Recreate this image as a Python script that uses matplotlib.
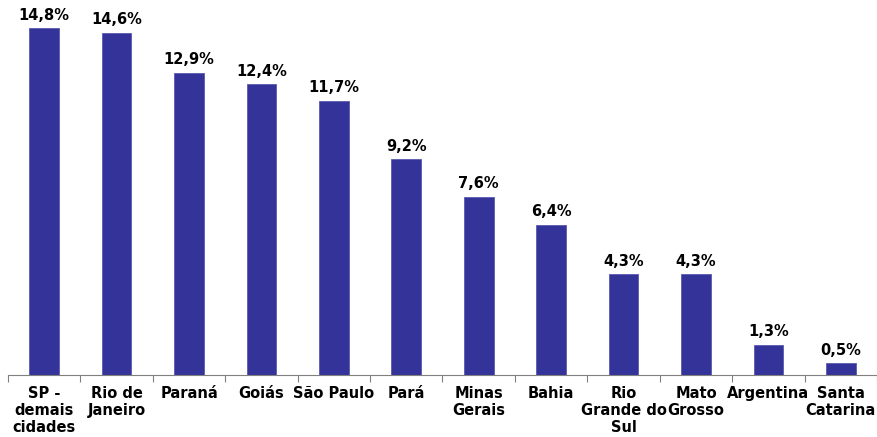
import matplotlib.pyplot as plt
import numpy as np

# dados
regioes = ['SP -\ndemais\ncidades', 'Rio de\nJaneiro', 'Paraná', 'Goiás', 'São Paulo', 'Pará',
           'Minas\nGerais', 'Bahia', 'Rio\nGrande do\nSul', 'Mato\nGrosso', 'Argentina',
           'Santa\nCatarina']
valores = [14.8, 14.6, 12.9, 12.4, 11.7, 9.2, 7.6, 6.4, 4.3, 4.3, 1.3, 0.5]
rotulos = ['14,8%', '14,6%', '12,9%', '12,4%', '11,7%', '9,2%', '7,6%', '6,4%',
           '4,3%', '4,3%', '1,3%', '0,5%']

fig = plt.figure(figsize=(8.77, 4.37), dpi=100)
ax = fig.add_axes([8 / 877, 62 / 437, 869 / 877, 375 / 437])

x = np.arange(len(valores))
ax.bar(x, valores, width=0.41, color='#333399', edgecolor='#5a5ab0', linewidth=0.6)

for xi, v, r in zip(x, valores, rotulos):
    ax.annotate(r, (xi, v), xytext=(0, 4), textcoords='offset points',
                ha='center', va='bottom', fontsize=10.5, fontweight='bold')

ax.set_xlim(-0.5, len(valores) - 0.5)
ax.set_ylim(0, 16)

ax.set_xticks(x)
ax.set_xticklabels(regioes, fontsize=10.5, fontweight='bold', linespacing=1.16, va='top')
ax.tick_params(axis='x', which='major', length=0, pad=8)
ax.set_xticks(np.arange(-0.5, len(valores)), minor=True)
ax.tick_params(axis='x', which='minor', length=5, color='#808080', width=0.8)

ax.set_yticks([])
for s in ['top', 'right', 'left']:
    ax.spines[s].set_visible(False)
ax.spines['bottom'].set_color('#808080')
ax.spines['bottom'].set_linewidth(0.8)

fig.savefig('out.png', dpi=100)
